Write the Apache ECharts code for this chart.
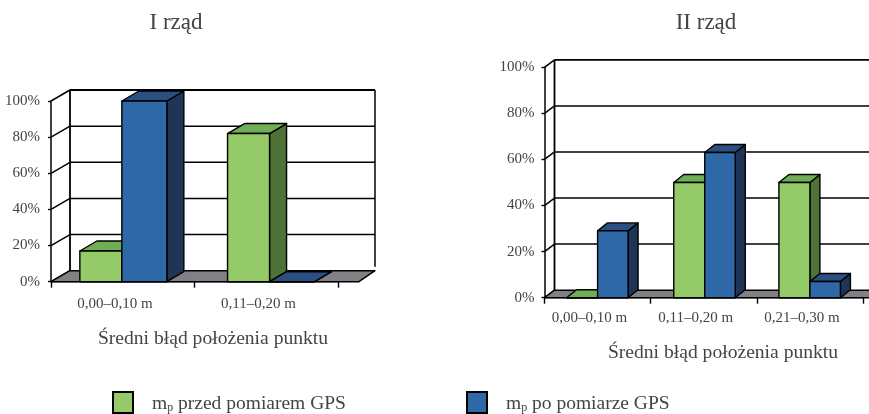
<!DOCTYPE html>
<html>
<head>
<meta charset="utf-8">
<title>Średni błąd położenia punktu</title>
<script src="https://cdn.jsdelivr.net/npm/echarts@6/dist/echarts.min.js"></script>
<style>
html, body { margin: 0; padding: 0; background: #fff; }
#chart { width: 869px; height: 414px; }
</style>
</head>
<body>
<div id="chart"></div>
<script>
// dane
var categories1 = ['0,00–0,10 m', '0,11–0,20 m'];
var categories2 = ['0,00–0,10 m', '0,11–0,20 m', '0,21–0,30 m'];
var przed1 = [17, 82];
var po1 = [100, 0];
var przed2 = [0, 50, 50];
var po2 = [29, 63, 7];
var yTicks = [0, 20, 40, 60, 80, 100];
var nazwaPrzed = 'mp przed pomiarem GPS';
var nazwaPo = 'mp po pomiarze GPS';

var font = '"Liberation Serif", serif';
var textColor = '#444';
var green = { front: '#94cb68', top: '#6fae56', side: '#4f7336' };
var blue = { front: '#2e68a7', top: '#2a4f80', side: '#1e3557' };

var myChart = echarts.init(document.getElementById('chart'));

function poly(points, fill, lw) {
	return {
		type: 'polygon',
		shape: { points: points },
		style: { fill: fill, stroke: '#000', lineWidth: lw || 1.4, lineJoin: 'round' }
	};
}
function line(x1, y1, x2, y2, w) {
	return {
		type: 'line',
		shape: { x1: x1, y1: y1, x2: x2, y2: y2 },
		style: { stroke: '#000', lineWidth: w || 1.5 }
	};
}

// sciana tylna, podloga i linie siatki
function frameSeries(idx, cfg) {
	return {
		type: 'custom',
		silent: true,
		xAxisIndex: idx,
		yAxisIndex: idx,
		data: [[0, 0]],
		renderItem: function (params, api) {
			var p0 = api.coord([0, 0]);
			var x0 = p0[0] - api.size([1, 0])[0] / 2;
			var y0 = p0[1];
			var kids = [];
			var bx = x0 + cfg.wallDx;
			var ex = cfg.wallRight;
			yTicks.forEach(function (t) {
				var y = api.coord([0, t])[1];
				kids.push(line(x0, y, bx, y - cfg.wallDy));
				if (t > 0) {
					kids.push(line(bx, y - cfg.wallDy, ex, y - cfg.wallDy, t === 100 ? 1.8 : 1.5));
				}
			});
			var ty = api.coord([0, 100])[1] - cfg.wallDy;
			kids.push(line(bx, ty, bx, y0 - cfg.wallDy, 1.8));
			if (cfg.rightEdge) {
				kids.push(line(ex, ty, ex, y0 - cfg.wallDy - 4));
			}
			kids.push(poly([
				[x0, y0], [bx, y0 - cfg.wallDy], [ex, y0 - cfg.wallDy], [cfg.floorRight, y0]
			], '#808085'));
			return { type: 'group', children: kids };
		}
	};
}

// slupek 3D; pozycje wylacznie ze skal ECharts
function barSeries(idx, name, values, cols, side, cfg) {
	return {
		type: 'custom',
		name: name,
		silent: true,
		xAxisIndex: idx,
		yAxisIndex: idx,
		itemStyle: { color: cols.front, borderColor: '#000', borderWidth: 1.5 },
		data: values.map(function (v, i) { return [i, v]; }),
		renderItem: function (params, api) {
			var i = api.value(0);
			var c = api.coord([i, api.value(1)]);
			var b = api.coord([i, 0]);
			var w = cfg.barWidth[side < 0 ? 0 : 1];
			var cx = c[0] + cfg.shift[i];
			var x1 = side < 0 ? cx - w : cx;
			var x2 = side < 0 ? cx : cx + w;
			var dx = cfg.barDx;
			var dy = cfg.barDy;
			return {
				type: 'group',
				children: [
					poly([[x2, b[1]], [x2 + dx, b[1] - dy], [x2 + dx, c[1] - dy], [x2, c[1]]], cols.side),
					poly([[x1, c[1]], [x1 + dx, c[1] - dy], [x2 + dx, c[1] - dy], [x2, c[1]]], cols.top),
					poly([[x1, b[1]], [x2, b[1]], [x2, c[1]], [x1, c[1]]], cols.front)
				]
			};
		}
	};
}

var cfg1 = {
	wallDx: 19, wallDy: 11, wallRight: 375, floorRight: 359,
	rightEdge: true, barWidth: [42, 45], barDx: 17, barDy: 10, shift: [-1, 3]
};
var cfg2 = {
	wallDx: 10, wallDy: 7.5, wallRight: 880, floorRight: 870,
	rightEdge: false, barWidth: [31, 30.5], barDx: 10, barDy: 8, shift: [0, 1, 0]
};

function xAxis(idx, cats, margin) {
	return {
		type: 'category',
		gridIndex: idx,
		data: cats,
		boundaryGap: true,
		axisLine: { show: true, onZero: false, lineStyle: { color: '#000', width: 1.4 } },
		axisTick: { show: true, alignWithLabel: false, length: 6, lineStyle: { color: '#000', width: 1.4 } },
		axisLabel: {
			interval: 0,
			margin: margin,
			fontFamily: font,
			fontSize: 15,
			color: textColor,
			padding: [0, 16, 0, 0]
		},
		splitLine: { show: false }
	};
}
function yAxis(idx, margin) {
	return {
		type: 'value',
		gridIndex: idx,
		min: 0,
		max: 100,
		interval: 20,
		axisLine: { show: true, lineStyle: { color: '#000', width: 1.5 } },
		axisTick: { show: true, length: 3, lineStyle: { color: '#000', width: 1.4 } },
		axisLabel: {
			margin: margin,
			fontFamily: font,
			fontSize: 15,
			color: textColor,
			formatter: '{value}%'
		},
		splitLine: { show: false }
	};
}
function legendOf(name, left) {
	return {
		left: left,
		top: 391,
		padding: 0,
		itemWidth: 20,
		itemHeight: 21,
		selectedMode: false,
		data: [{ name: name, icon: 'rect' }],
		formatter: function (n) {
			return '{gap|}m{sub|p} ' + n.slice(3);
		},
		textStyle: {
			fontFamily: font,
			fontSize: 19.5,
			color: textColor,
			padding: [3, 0, 0, 0],
			rich: {
				gap: { width: 14 },
				sub: { fontFamily: font, fontSize: 12, color: textColor, verticalAlign: 'bottom', padding: [6, 0, 0, 0] }
			}
		}
	};
}
function titleOf(text, x, y, size) {
	return {
		text: text,
		left: x,
		top: y,
		textAlign: 'center',
		textStyle: { fontFamily: font, fontSize: size, fontWeight: 'normal', color: textColor }
	};
}

var option = {
	animation: false,
	backgroundColor: '#fff',
	title: [
		titleOf('I rząd', 171, 6, 23),
		titleOf('II rząd', 701, 6, 23),
		titleOf('Średni błąd położenia punktu', 208, 324, 19.6),
		titleOf('Średni błąd położenia punktu', 718, 338, 19.6)
	],
	legend: [legendOf(nazwaPrzed, 112), legendOf(nazwaPo, 466)],
	grid: [
		{ left: 51, top: 101, width: 287.4, height: 180.7 },
		{ left: 544.5, top: 67.3, width: 318.5, height: 230.4 }
	],
	xAxis: [xAxis(0, categories1, 15), xAxis(1, categories2, 13)],
	yAxis: [yAxis(0, 11), yAxis(1, 10)],
	series: [
		frameSeries(0, cfg1),
		barSeries(0, nazwaPrzed, przed1, green, -1, cfg1),
		barSeries(0, nazwaPo, po1, blue, 1, cfg1),
		frameSeries(1, cfg2),
		barSeries(1, nazwaPrzed, przed2, green, -1, cfg2),
		barSeries(1, nazwaPo, po2, blue, 1, cfg2)
	]
};
myChart.setOption(option);
</script>
</body>
</html>
